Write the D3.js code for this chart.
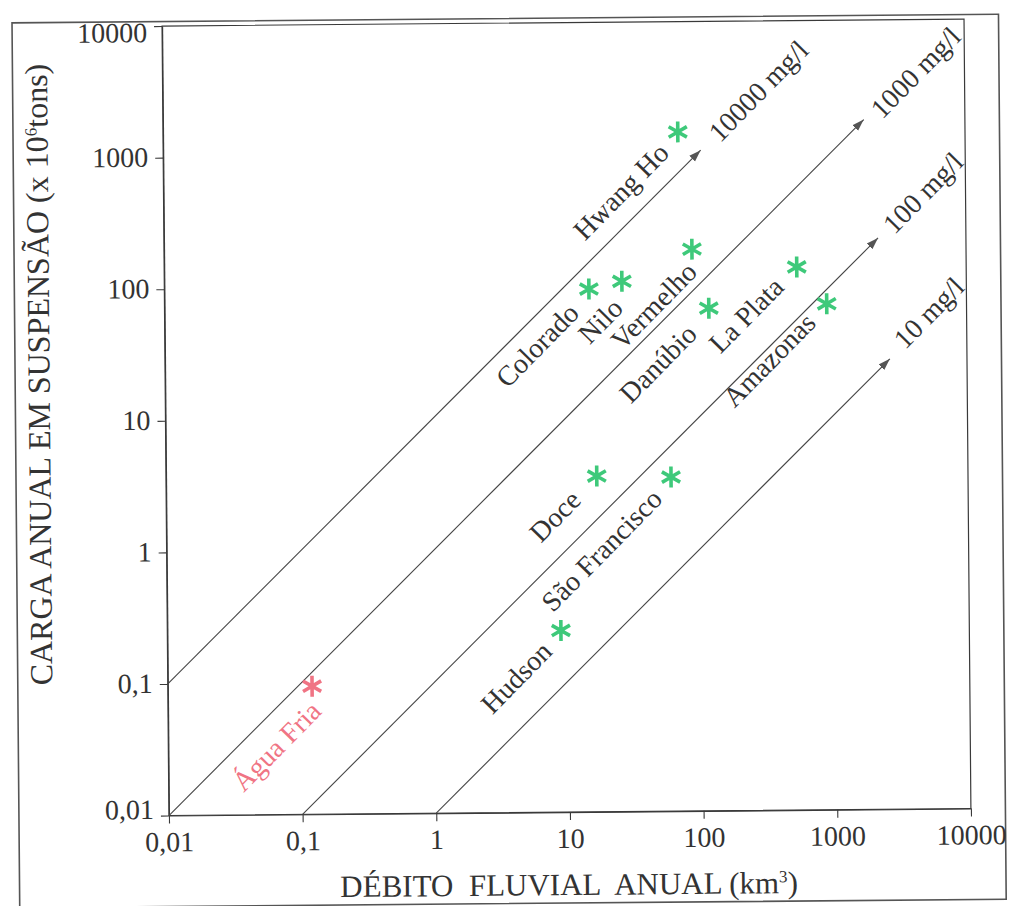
<!DOCTYPE html>
<html>
<head>
<meta charset="utf-8">
<script src="https://cdn.jsdelivr.net/npm/d3@7"></script>
<style>
  html, body { margin: 0; padding: 0; background: #fff; }
  svg { display: block; }
  text { font-family: "Liberation Serif", "Times New Roman", serif; fill: #333; }
</style>
</head>
<body>
<svg id="chart" width="1012" height="906"></svg>
<script>
// Axis ticks (log scale, decimal comma)
const tickValues = [0.01, 0.1, 1, 10, 100, 1000, 10000];
const tickLabels = ["0,01", "0,1", "1", "10", "100", "1000", "10000"];

// Concentration reference lines: load (10^6 t) = factor × discharge (km³)
const concLabels = ["10000 mg/l", "1000 mg/l", "100 mg/l", "10 mg/l"];
const concFactor = [10, 1, 0.1, 0.01];
const concStartQ = [0.01, 0.01, 0.1, 1];
const concEndQ = [105, 1750, 2200, 2650];

// Rivers: annual discharge (km³) and annual suspended load (10^6 t)
const rivers = ["Hwang Ho", "Colorado", "Nilo", "Vermelho", "Danúbio", "La Plata",
                "Amazonas", "Doce", "São Francisco", "Hudson", "Água Fria"];
const discharge = [71, 15, 26.5, 89, 118, 540, 900, 16.7, 60, 8.8, 0.12];
const load = [1450, 94, 107, 186, 66, 134, 70, 3.56, 3.46, 0.24, 0.094];
const highlighted = [false, false, false, false, false, false, false, false, false, false, true];

// Label placement: end of each river name relative to its marker (px)
const labelOffset = [[-13, 17], [-14, 20], [-3, 23], [1, 19], [-16, 22], [-17, 16],
                     [-15, 15], [-20, 20], [-13, 18], [-13, 17], [5, 21]];
// Start of each concentration label relative to its arrow tip (px)
const concLabelOffset = [[14, -12], [13, -5], [11, -8], [10, -14]];

const plot = { left: 165.5, right: 967.5, top: 22.5, bottom: 812 };
const GREEN = "#3ec97a", PINK = "#f07484", INK = "#3a3a3a";

const svg = d3.select("#chart");
// the whole sheet sits very slightly tilted
const sheet = svg.append("g").attr("transform", "rotate(-0.5 570 420)");

// outer frame
sheet.append("rect")
  .attr("x", 15.5).attr("y", 18).attr("width", 1002 - 15.5).attr("height", 903 - 18)
  .attr("fill", "none").attr("stroke", "#555").attr("stroke-width", 1.6);

const x = d3.scaleLog().domain([0.01, 10000]).range([plot.left, plot.right]);
const y = d3.scaleLog().domain([0.01, 10000]).range([plot.bottom, plot.top]);

// plot border
sheet.append("rect")
  .attr("x", plot.left).attr("y", plot.top)
  .attr("width", plot.right - plot.left).attr("height", plot.bottom - plot.top)
  .attr("fill", "none").attr("stroke", INK).attr("stroke-width", 1.2);

const fmt = d => tickLabels[tickValues.indexOf(d)];

const xAxis = sheet.append("g")
  .attr("transform", `translate(0,${plot.bottom})`)
  .call(d3.axisBottom(x).tickValues(tickValues).tickFormat(fmt).tickSize(8).tickSizeOuter(0).tickPadding(8));
const yAxis = sheet.append("g")
  .attr("transform", `translate(${plot.left},0)`)
  .call(d3.axisLeft(y).tickValues(tickValues).tickFormat(fmt).tickSize(8).tickSizeOuter(0).tickPadding(7));

[xAxis, yAxis].forEach(g => {
  g.select(".domain").attr("stroke", INK).attr("stroke-width", 1.2);
  g.selectAll(".tick line").attr("stroke", INK).attr("stroke-width", 1.1);
  g.selectAll(".tick text")
    .attr("fill", "#333")
    .style("font-family", '"Liberation Serif", "Times New Roman", serif')
    .style("font-size", "28px");
});
yAxis.selectAll(".tick text").attr("dy", "0.3em");
yAxis.selectAll(".tick").filter(d => d === 10000).select("text").attr("dy", "0.55em");
yAxis.selectAll(".tick").filter(d => d === 0.01).select("text").attr("dy", "0.1em");

// arrow marker
const defs = svg.append("defs");
defs.append("marker")
  .attr("id", "arrow").attr("viewBox", "0 0 12 10")
  .attr("refX", 12).attr("refY", 5)
  .attr("markerWidth", 12).attr("markerHeight", 10)
  .attr("markerUnits", "userSpaceOnUse")
  .attr("orient", "auto")
  .append("path").attr("d", "M0,1 L12,5 L0,9 Z").attr("fill", "#555");

// concentration lines
const concG = sheet.append("g");
concLabels.forEach((lab, i) => {
  const q0 = concStartQ[i], q1 = concEndQ[i];
  const p0 = [x(q0), y(q0 * concFactor[i])];
  const p1 = [x(q1), y(q1 * concFactor[i])];
  concG.append("line")
    .attr("x1", p0[0]).attr("y1", p0[1]).attr("x2", p1[0]).attr("y2", p1[1])
    .attr("stroke", "#444").attr("stroke-width", 1.1)
    .attr("marker-end", "url(#arrow)");
  const tx = p1[0] + concLabelOffset[i][0], ty = p1[1] + concLabelOffset[i][1];
  concG.append("text")
    .attr("transform", `translate(${tx},${ty}) rotate(-45)`)
    .attr("dy", "0.28em")
    .attr("text-anchor", "start")
    .style("font-size", "28px")
    .text(lab);
});

// six-armed asterisk marker
const asterisk = {
  draw(ctx, size) {
    const r = Math.sqrt(size) / 2;
    for (let k = 0; k < 3; k++) {
      const a = Math.PI / 2 + k * Math.PI / 3;
      ctx.moveTo(r * Math.cos(a), r * Math.sin(a));
      ctx.lineTo(-r * Math.cos(a), -r * Math.sin(a));
    }
  }
};
const sym = d3.symbol().type(asterisk).size(440);

const riverG = sheet.append("g");
rivers.forEach((name, i) => {
  const px = x(discharge[i]), py = y(load[i]);
  const col = highlighted[i] ? PINK : GREEN;
  riverG.append("path")
    .attr("d", sym())
    .attr("transform", `translate(${px},${py})`)
    .attr("fill", "none").attr("stroke", col)
    .attr("stroke-width", 3.6).attr("stroke-linecap", "butt");
  const tx = px + labelOffset[i][0], ty = py + labelOffset[i][1];
  riverG.append("text")
    .attr("transform", `translate(${tx},${ty}) rotate(-45)`)
    .attr("dy", "0.28em")
    .attr("text-anchor", "end")
    .style("font-size", "28px")
    .style("fill", highlighted[i] ? PINK : "#333")
    .text(name);
});

// axis titles
const yt = sheet.append("text")
  .attr("transform", "translate(50,370) rotate(-90)")
  .attr("text-anchor", "middle")
  .style("font-size", "32px");
yt.append("tspan").text("CARGA ANUAL EM SUSPENSÃO (x 10");
yt.append("tspan").attr("dy", -11).style("font-size", "17px").text("6");
yt.append("tspan").attr("dy", 11).text("tons)");

const xt = sheet.append("text")
  .attr("transform", "translate(565,895)")
  .attr("text-anchor", "middle")
  .style("font-size", "31px")
  .attr("xml:space", "preserve");
xt.append("tspan").text("DÉBITO  FLUVIAL  ANUAL (km");
xt.append("tspan").attr("dy", -11).style("font-size", "17px").text("3");
xt.append("tspan").attr("dy", 11).text(")");
</script>
</body>
</html>
